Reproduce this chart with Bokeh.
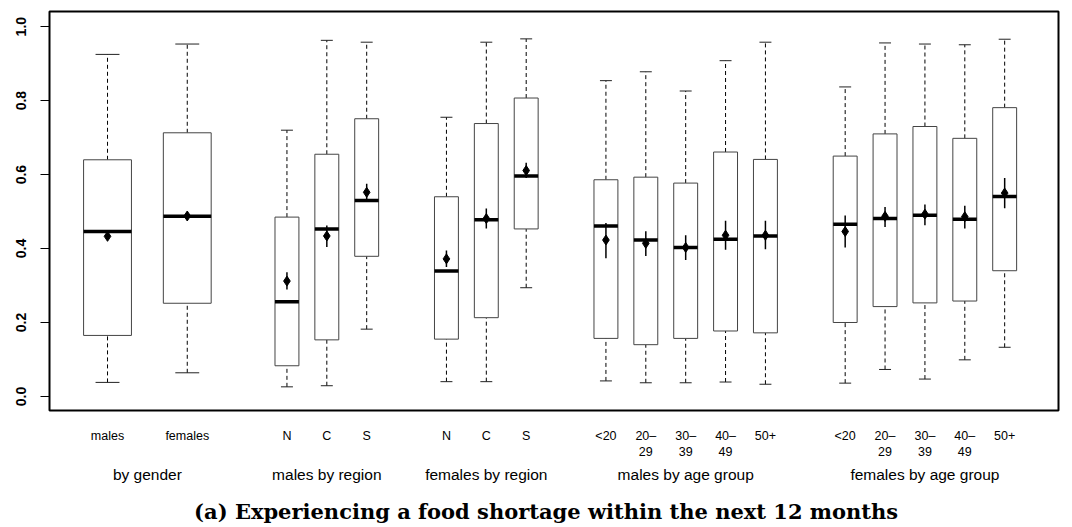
from bokeh.plotting import figure
from bokeh.models import Range1d, FixedTicker, LinearAxis, PrintfTickFormatter, ColumnDataSource
from bokeh.embed import file_html
from bokeh.resources import INLINE

# ---- data ----
tick_labels = ["males", "females",
               "N", "C", "S",
               "N", "C", "S",
               "<20", "20–\n29", "30–\n39", "40–\n49", "50+",
               "<20", "20–\n29", "30–\n39", "40–\n49", "50+"]
group_labels = ["by gender", "males by region", "females by region",
                "males by age group", "females by age group"]
title_text = "(a) Experiencing a food shortage within the next 12 months"

whisker_low = [0.038, 0.064, 0.026, 0.029, 0.182, 0.040, 0.040, 0.294,
               0.042, 0.037, 0.037, 0.039, 0.033, 0.036, 0.073, 0.047, 0.099, 0.133]
q1 = [0.165, 0.252, 0.083, 0.153, 0.379, 0.155, 0.213, 0.453,
      0.157, 0.140, 0.157, 0.177, 0.172, 0.200, 0.243, 0.253, 0.258, 0.340]
median = [0.446, 0.487, 0.256, 0.453, 0.530, 0.339, 0.478, 0.596,
          0.461, 0.423, 0.403, 0.425, 0.434, 0.466, 0.481, 0.490, 0.479, 0.541]
q3 = [0.640, 0.713, 0.485, 0.655, 0.751, 0.540, 0.738, 0.807,
      0.586, 0.593, 0.577, 0.661, 0.641, 0.650, 0.710, 0.730, 0.698, 0.781]
whisker_high = [0.925, 0.953, 0.720, 0.963, 0.958, 0.755, 0.958, 0.967,
                0.854, 0.878, 0.826, 0.908, 0.958, 0.837, 0.956, 0.953, 0.951, 0.966]
mean = [0.433, 0.488, 0.312, 0.434, 0.552, 0.372, 0.481, 0.611,
        0.423, 0.414, 0.403, 0.436, 0.436, 0.446, 0.487, 0.493, 0.486, 0.550]
ci_low = [0.423, 0.478, 0.289, 0.404, 0.530, 0.350, 0.454, 0.591,
          0.374, 0.380, 0.369, 0.397, 0.398, 0.403, 0.458, 0.463, 0.454, 0.509]
ci_high = [0.443, 0.498, 0.336, 0.462, 0.575, 0.395, 0.508, 0.632,
           0.469, 0.447, 0.436, 0.475, 0.475, 0.489, 0.512, 0.519, 0.516, 0.591]

# ---- layout of categories on the x axis (half-units -> integers) ----
group_sizes = [2, 3, 3, 5, 5]
positions = []
group_pos = []
x = 0
for gi, n in enumerate(group_sizes):
    step = 4 if gi == 0 else 2
    start = x
    for k in range(n):
        positions.append(x)
        if k < n - 1:
            x += step
    group_pos.append((start + x) // 2)
    x += 5 if gi == 0 else 4
widths = [2.4 if i < 2 else 1.2 for i in range(len(positions))]
title_pos = 22  # horizontal centre of the caption, in axis units

src = ColumnDataSource(dict(
    x=positions,
    left=[p - w / 2 for p, w in zip(positions, widths)],
    right=[p + w / 2 for p, w in zip(positions, widths)],
    capl=[p - w / 4 for p, w in zip(positions, widths)],
    capr=[p + w / 4 for p, w in zip(positions, widths)],
    wl=whisker_low, q1=q1, med=median, q3=q3, wh=whisker_high,
    mean=mean, cil=ci_low, cih=ci_high,
))

p = figure(width=1072, height=527, output_backend="svg", toolbar_location=None,
           x_range=Range1d(-2.91, 47.7), y_range=Range1d(-0.038, 1.041),
           min_border_left=49, min_border_right=14, min_border_top=11, min_border_bottom=117,
           title=None)
p.background_fill_color = "white"
p.border_fill_color = "white"
p.outline_line_color = "black"
p.outline_line_width = 2
p.xgrid.visible = False
p.ygrid.visible = False

# whiskers
p.segment(x0="x", x1="x", y0="q3", y1="wh", source=src, line_color="black", line_width=1, line_dash="4 3")
p.segment(x0="x", x1="x", y0="wl", y1="q1", source=src, line_color="black", line_width=1, line_dash="4 3")
p.segment(x0="capl", x1="capr", y0="wh", y1="wh", source=src, line_color="#222222", line_width=1)
p.segment(x0="capl", x1="capr", y0="wl", y1="wl", source=src, line_color="#222222", line_width=1)
# boxes
p.quad(left="left", right="right", bottom="q1", top="q3", source=src,
       fill_color="white", line_color="#444444", line_width=1)
# medians
p.segment(x0="left", x1="right", y0="med", y1="med", source=src, line_color="black", line_width=3.5)
# mean and CI
p.segment(x0="x", x1="x", y0="cil", y1="cih", source=src, line_color="black", line_width=1.5)
p.scatter(x="x", y="mean", source=src, marker="diamond", size=10, fill_color="black", line_color="black")

# y axis
ya = p.yaxis[0]
ya.ticker = FixedTicker(ticks=[0.0, 0.2, 0.4, 0.6, 0.8, 1.0])
ya.formatter = PrintfTickFormatter(format="%.1f")
ya.axis_line_color = None
ya.major_tick_out = 9
ya.major_tick_in = 0
ya.minor_tick_line_color = None
ya.major_label_orientation = "vertical"
ya.major_label_standoff = 14
ya.major_label_text_font = "Liberation Sans"
ya.major_label_text_font_style = "bold"
ya.major_label_text_font_size = "14px"
ya.major_label_text_color = "black"


def text_axis(ticks, labels, standoff, font, size, style="normal"):
    ax = LinearAxis(ticker=FixedTicker(ticks=ticks),
                    major_label_overrides={int(pp): lab for pp, lab in zip(ticks, labels)})
    ax.axis_line_color = None
    ax.major_tick_line_color = None
    ax.minor_tick_line_color = None
    ax.major_tick_out = 0
    ax.major_tick_in = 0
    ax.major_label_standoff = standoff
    ax.major_label_text_font = font
    ax.major_label_text_font_size = size
    ax.major_label_text_font_style = style
    ax.major_label_text_color = "black"
    return ax


# x category labels (use the default bottom axis)
xa = p.xaxis[0]
xa.ticker = FixedTicker(ticks=positions)
xa.major_label_overrides = {int(pp): lab for pp, lab in zip(positions, tick_labels)}
xa.axis_line_color = None
xa.major_tick_line_color = None
xa.minor_tick_line_color = None
xa.major_tick_out = 0
xa.major_tick_in = 0
xa.major_label_standoff = 18
xa.major_label_text_font = "Liberation Sans"
xa.major_label_text_font_size = "12.5px"
xa.major_label_text_color = "black"

# group labels
p.add_layout(text_axis(group_pos, group_labels, 3, "Liberation Sans", "15.5px"), "below")
# caption
p.add_layout(text_axis([title_pos], [title_text], 13, "DejaVu Serif", "21px", "bold"), "below")

open("out.html", "w").write(file_html(p, INLINE))
